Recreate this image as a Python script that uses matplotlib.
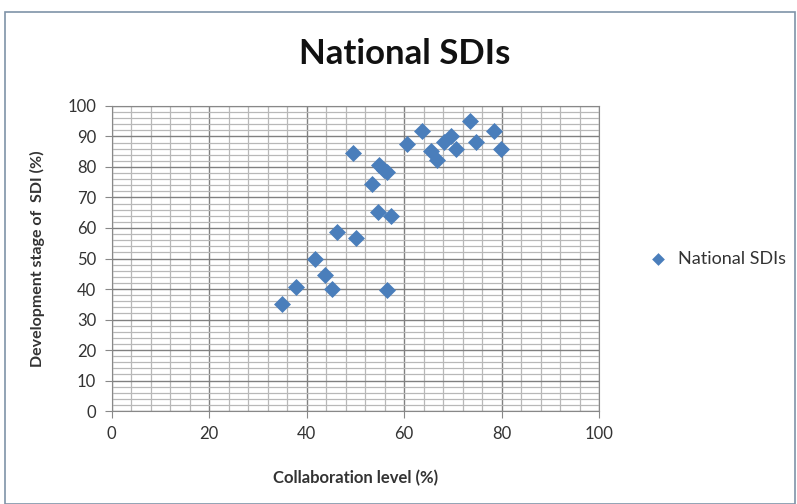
import numpy as np
import matplotlib.pyplot as plt
from matplotlib.patches import Rectangle
from matplotlib.ticker import MultipleLocator

plt.rcParams['font.family'] = ['Lato', 'DejaVu Sans']

# collaboration level (%) and development stage (%)
collab = [35.0, 37.8, 41.7, 43.8, 45.3, 46.3, 50.1, 49.5, 53.4, 54.7, 57.3, 56.6,
          54.8, 55.8, 56.6, 60.7, 63.6, 65.6, 66.7, 68.1, 69.6, 70.7, 73.6, 74.7,
          78.5, 79.9]
devel = [35.0, 40.8, 49.7, 44.5, 39.9, 58.8, 56.7, 84.6, 74.5, 65.1, 64.0, 39.8,
         80.5, 79.0, 78.2, 87.5, 91.8, 85.4, 82.3, 88.3, 90.2, 85.8, 95.2, 88.3,
         91.8, 85.8]

fig = plt.figure(figsize=(7.97, 5.04), dpi=100)
fig.patches.append(Rectangle((5/797, 0), 790/797, 1-12/504, transform=fig.transFigure,
                             fill=False, edgecolor='#7f93a8', lw=1.2))

ax = fig.add_axes([0.140, 0.1845, 0.6116, 0.6052])
ax.scatter(collab, devel, marker='D', s=75, color='#4a7ebb', zorder=3,
           label='National SDIs', linewidths=0)

ax.set_xlim(0, 100)
ax.set_ylim(0, 100)
ax.xaxis.set_major_locator(MultipleLocator(20))
ax.xaxis.set_minor_locator(MultipleLocator(4))
ax.yaxis.set_major_locator(MultipleLocator(10))
ax.yaxis.set_minor_locator(MultipleLocator(2))
ax.grid(which='major', color='#808080', lw=1.0)
ax.grid(which='minor', color='#b8b8b8', lw=0.9)
ax.set_axisbelow(True)
ax.tick_params(which='minor', length=0)
ax.tick_params(which='major', length=5, color='#888888', labelsize=12,
               labelcolor='#333333', pad=6)
for s in ax.spines.values():
    s.set_color('#888888')

ax.set_xlabel('Collaboration level (%)', fontsize=12, fontweight='bold',
              color='#333333', labelpad=20)
ax.set_ylabel('Development stage of  SDI (%)', fontsize=11.5, fontweight='bold',
              color='#333333', labelpad=16)
fig.text(0.508, 0.893, 'National SDIs', ha='center', va='center', fontsize=25,
         fontweight='bold', color='#111111')

ax.legend(loc='center left', bbox_to_anchor=(1.05, 0.5), frameon=False,
          fontsize=13, handletextpad=0.1, markerscale=0.75, labelcolor='#333333')

fig.savefig('out.png', dpi=100)
